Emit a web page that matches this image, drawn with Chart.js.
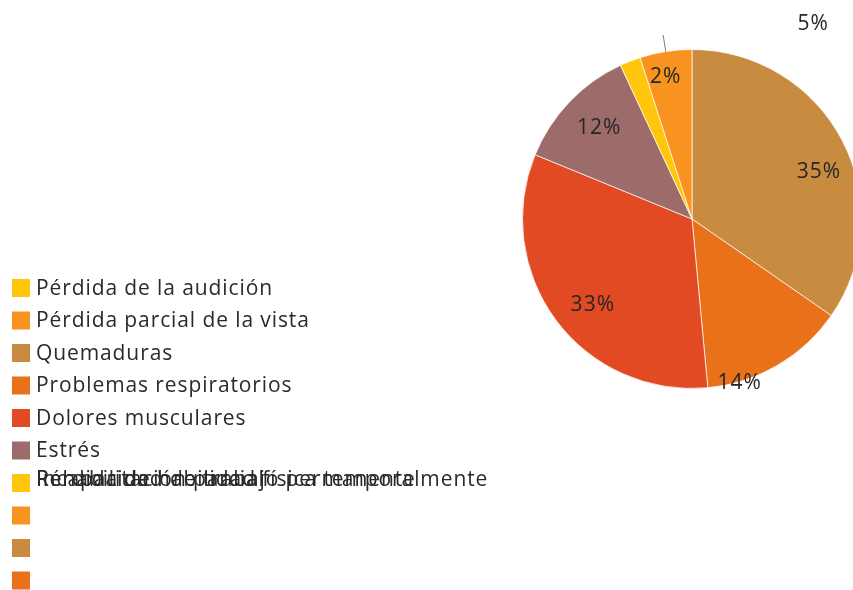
<!DOCTYPE html>
<html>
<head>
<meta charset="utf-8">
<script src="https://cdn.jsdelivr.net/npm/chart.js@4/dist/chart.umd.min.js"></script>
<style>
html,body{margin:0;padding:0;background:#fff;overflow:hidden;width:853px;height:590px;}
#wrap{position:absolute;left:0;top:0;width:900px;height:590px;}
</style>
</head>
<body>
<div id="wrap"><canvas id="c"></canvas></div>
<script>
// ---- data ----
const categories = [
  "Pérdida de la audición",
  "Pérdida parcial de la vista",
  "Quemaduras",
  "Problemas respiratorios",
  "Dolores musculares",
  "Estrés",
  "Pérdida de habilidad física temporalmente",
  "",
  "",
  ""
];
const overlappedLabels = ["Incapacidad de trabajo permanente", "Rehabilitación parcial"];
const values = [0, 0, 35, 14, 33, 12, 2, 5, 0, 0];
const sliceColors = ["#FFC60B","#F7931E","#C98B40","#E9711A","#E24A24","#9C6B6A","#FFC60B","#F7931E","#C98B40","#E9711A"];

// label placement tweaks (radius factor, angle offset in degrees, optional leader)
const labelPlace = {
  2:{r:0.80,d:7},
  3:{r:1.00,d:14},
  4:{r:0.77,d:-4},
  5:{r:0.77,d:1},
  6:{r:0.86,d:11},
  7:{r:1.36,d:40.6,leader:true}
};

const labelsPlugin = {
  id:'sliceLabels',
  afterDatasetsDraw(chart){
    const ctx = chart.ctx;
    const meta = chart.getDatasetMeta(0);
    ctx.save();
    ctx.font = '21px "Open Sans"';
    ctx.letterSpacing = '1px';
    ctx.fillStyle = '#262626';
    ctx.textAlign = 'center';
    ctx.textBaseline = 'middle';
    meta.data.forEach((arc,i)=>{
      const v = values[i];
      if(!v) return;
      const p = labelPlace[i] || {r:0.75,d:0};
      const mid = (arc.startAngle+arc.endAngle)/2;
      const a = mid + p.d*Math.PI/180;
      const R = arc.outerRadius;
      const x = arc.x + Math.cos(a)*R*p.r;
      const y = arc.y + Math.sin(a)*R*p.r;
      ctx.fillText(v+'%', x, y+1);
      if(p.leader){
        ctx.strokeStyle = '#7f7f7f';
        ctx.lineWidth = 1;
        ctx.beginPath();
        ctx.moveTo(arc.x+Math.cos(mid)*R*1.0, arc.y+Math.sin(mid)*R*1.0);
        ctx.lineTo(arc.x+Math.cos(mid)*R*1.1, arc.y+Math.sin(mid)*R*1.1);
        ctx.stroke();
      }
    });
    ctx.restore();
  }
};

const legendPlugin = {
  id:'leftLegend',
  afterDraw(chart){
    const ctx = chart.ctx;
    ctx.save();
    const x0 = 12, y0 = 288, step = 32.5, box = 18;
    ctx.font = '21px "Open Sans"';
    ctx.letterSpacing = '0.9px';
    ctx.textBaseline = 'middle';
    categories.forEach((lab,i)=>{
      const yc = y0 + i*step;
      ctx.fillStyle = sliceColors[i];
      ctx.fillRect(x0, yc-box/2, box, box);
      ctx.fillStyle = '#2a2a2a';
      const ty = i===6 ? yc-3 : yc+1;
      if(lab) ctx.fillText(lab, x0+24, ty);
      if(i===6){
        overlappedLabels.forEach(o=>ctx.fillText(o, x0+24, ty));
      }
    });
    ctx.restore();
  }
};

new Chart(document.getElementById('c'),{
  type:'pie',
  data:{
    labels:categories,
    datasets:[{
      data:values,
      backgroundColor:sliceColors,
      borderColor:'rgba(255,255,255,0.7)',
      borderWidth:1
    }]
  },
  options:{
    responsive:true,
    maintainAspectRatio:false,
    animation:false,
    layout:{padding:{left:522,right:38,top:49,bottom:201}},
    plugins:{legend:{display:false},tooltip:{enabled:false}}
  },
  plugins:[labelsPlugin, legendPlugin]
});
</script>
</body>
</html>
